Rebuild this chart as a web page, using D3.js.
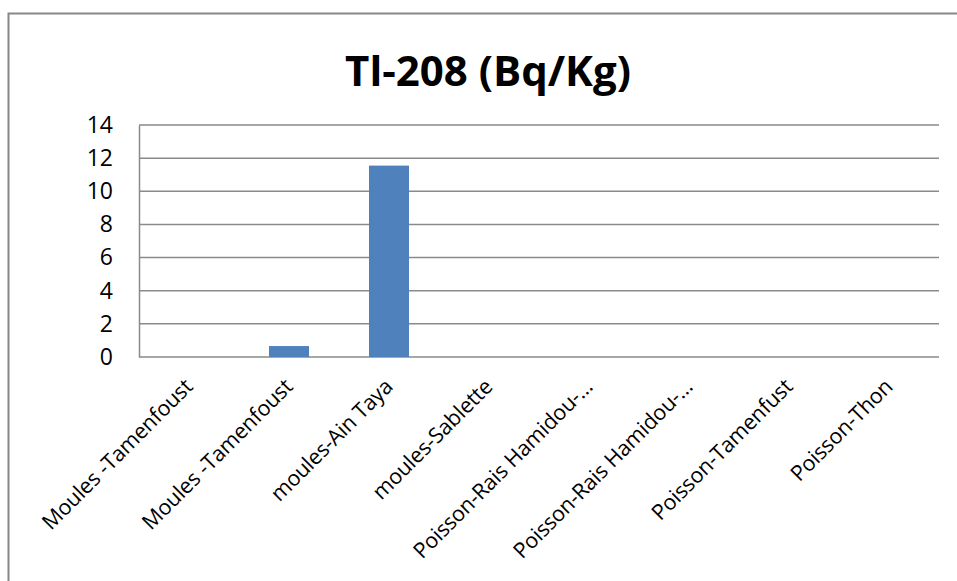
<!DOCTYPE html>
<html>
<head>
<meta charset="utf-8">
<script src="https://cdn.jsdelivr.net/npm/d3@7"></script>
<style>
  html, body { margin: 0; padding: 0; background: #fff; }
  svg { display: block; }
</style>
</head>
<body>
<svg id="chart" width="957" height="581"></svg>
<script>
// Sample categories and their Tl-208 activity (Bq/Kg)
const categories = [
  "Moules -Tamenfoust",
  "Moules -Tamenfoust ",
  "moules-Ain Taya",
  "moules-Sablette",
  "Poisson-Rais Hamidou-…",
  "Poisson-Rais Hamidou-… ",
  "Poisson-Tamenfust",
  "Poisson-Thon"
];
const values = [0, 0.66, 11.55, 0, 0, 0, 0, 0];
const yTicks = [0, 2, 4, 6, 8, 10, 12, 14];
const title = "Tl-208 (Bq/Kg)";

const svg = d3.select("#chart");
const font = "'Open Sans', 'Liberation Sans', sans-serif";
const margin = { left: 139, right: 18, top: 125, bottom: 224 };
const W = 957, H = 581;

// Outer chart frame (top and left edges visible)
svg.append("path")
  .attr("d", `M8.5,${H} V13.5 H${W}`)
  .attr("fill", "none")
  .attr("stroke", "#878787")
  .attr("stroke-width", 2);

const x = d3.scaleBand()
  .domain(categories)
  .range([margin.left, W - margin.right])
  .paddingInner(0.6)
  .paddingOuter(0.3);

const y = d3.scaleLinear()
  .domain([0, 14])
  .range([H - margin.bottom, margin.top]);

// Horizontal gridlines
svg.append("g")
  .selectAll("line")
  .data(yTicks)
  .join("line")
  .attr("x1", margin.left)
  .attr("x2", W - margin.right)
  .attr("y1", d => y(d))
  .attr("y2", d => y(d))
  .attr("stroke", "#8a8a8a")
  .attr("stroke-width", 1.5);

// Y axis
const yAxis = svg.append("g")
  .attr("transform", `translate(${margin.left},0)`)
  .call(d3.axisLeft(y).tickValues(yTicks).tickSize(0).tickPadding(26));
yAxis.select(".domain").attr("stroke", "#8a8a8a").attr("stroke-width", 1.5);
yAxis.selectAll("text")
  .attr("font-family", font)
  .attr("font-size", 23)
  .attr("fill", "#000");

// Bars
svg.append("g")
  .selectAll("rect")
  .data(values)
  .join("rect")
  .attr("x", (d, i) => x(categories[i]))
  .attr("width", x.bandwidth())
  .attr("y", d => y(d))
  .attr("height", d => y(0) - y(d))
  .attr("fill", "#4f81bd");

// X axis with rotated category labels
const xAxis = svg.append("g")
  .attr("transform", `translate(0,${y(0)})`)
  .call(d3.axisBottom(x).tickSize(0).tickPadding(0));
xAxis.select(".domain").remove();
xAxis.selectAll(".tick text")
  .attr("font-family", font)
  .attr("font-size", 21.5)
  .attr("letter-spacing", "-0.2px")
  .attr("fill", "#000")
  .attr("text-anchor", "end")
  .attr("dy", "0")
  .attr("transform", "translate(5,31) rotate(-45)");

// Title
svg.append("text")
  .attr("x", 488)
  .attr("y", 86)
  .attr("text-anchor", "middle")
  .attr("font-family", font)
  .attr("font-weight", "bold")
  .attr("font-size", 42)
  .attr("fill", "#000")
  .text(title);
</script>
</body>
</html>
